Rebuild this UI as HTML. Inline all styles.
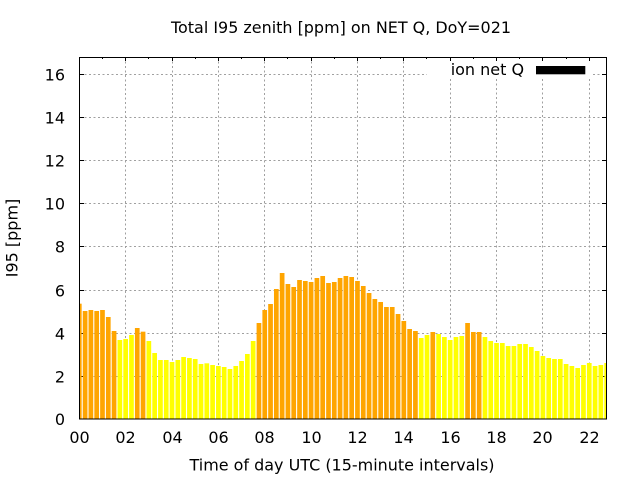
<!DOCTYPE html>
<html><head><meta charset="utf-8"><style>
html,body{margin:0;padding:0;background:#fff;}
svg{display:block;}
text{font-family:"DejaVu Sans","Liberation Sans",sans-serif;font-size:16px;fill:#000;}
</style></head><body>
<svg width="640" height="480" viewBox="0 0 640 480" xmlns="http://www.w3.org/2000/svg">
<rect x="0" y="0" width="640" height="480" fill="#fff"/>
<defs><clipPath id="pa"><rect x="80" y="57" width="526" height="362"/></clipPath></defs>
<g stroke="#a0a0a0" stroke-width="1" stroke-dasharray="2,2.5" fill="none">
<path d="M125.5 57V419M172.5 57V419M218.5 57V419M264.5 57V419M311.5 57V419M357.5 57V419M403.5 57V419M450.5 79V419M496.5 79V419M542.5 79V419M589.5 79V419"/>
<path d="M80 376.5H606M80 333.5H606M80 290.5H606M80 246.5H606M80 203.5H606M80 160.5H606M80 117.5H606M80 74.5H427M593 74.5H606"/>
</g>
<g stroke="#000" stroke-width="1">
<path d="M80 376.5H84M80 333.5H84M80 290.5H84M80 246.5H84M80 203.5H84M80 160.5H84M80 117.5H84M80 74.5H84"/>
<path d="M606 376.5H602M606 333.5H602M606 290.5H602M606 246.5H602M606 203.5H602M606 160.5H602M606 117.5H602M606 74.5H602"/>
<path d="M125.5 57V61M172.5 57V61M218.5 57V61M264.5 57V61M311.5 57V61M357.5 57V61M403.5 57V61M450.5 57V61M496.5 57V61M542.5 57V61M589.5 57V61"/>
<path d="M102.5 57V59M148.5 57V59M195.5 57V59M241.5 57V59M287.5 57V59M334.5 57V59M380.5 57V59M426.5 57V59M473.5 57V59M519.5 57V59M566.5 57V59"/>
</g>
<g clip-path="url(#pa)">
<g fill="#ffa500">
<rect x="76.95" y="303.67" width="4.7" height="115.33"/>
<rect x="82.75" y="311" width="4.7" height="108"/>
<rect x="88.54" y="310" width="4.7" height="109"/>
<rect x="94.34" y="311" width="4.7" height="108"/>
<rect x="100.13" y="310" width="4.7" height="109"/>
<rect x="105.93" y="317" width="4.7" height="102"/>
<rect x="111.72" y="331" width="4.7" height="88"/>
<rect x="134.90" y="328" width="4.7" height="91"/>
<rect x="140.70" y="331.67" width="4.7" height="87.33"/>
<rect x="256.60" y="323" width="4.7" height="96"/>
<rect x="262.39" y="310" width="4.7" height="109"/>
<rect x="268.19" y="304" width="4.7" height="115"/>
<rect x="273.98" y="289" width="4.7" height="130"/>
<rect x="279.78" y="273" width="4.7" height="146"/>
<rect x="285.57" y="284" width="4.7" height="135"/>
<rect x="291.37" y="287" width="4.7" height="132"/>
<rect x="297.16" y="280" width="4.7" height="139"/>
<rect x="302.96" y="281" width="4.7" height="138"/>
<rect x="308.75" y="282" width="4.7" height="137"/>
<rect x="314.55" y="278" width="4.7" height="141"/>
<rect x="320.34" y="276" width="4.7" height="143"/>
<rect x="326.14" y="283" width="4.7" height="136"/>
<rect x="331.93" y="282" width="4.7" height="137"/>
<rect x="337.73" y="278" width="4.7" height="141"/>
<rect x="343.52" y="276" width="4.7" height="143"/>
<rect x="349.32" y="277" width="4.7" height="142"/>
<rect x="355.11" y="281" width="4.7" height="138"/>
<rect x="360.91" y="286" width="4.7" height="133"/>
<rect x="366.70" y="293" width="4.7" height="126"/>
<rect x="372.50" y="299" width="4.7" height="120"/>
<rect x="378.29" y="302" width="4.7" height="117"/>
<rect x="384.09" y="307" width="4.7" height="112"/>
<rect x="389.88" y="307" width="4.7" height="112"/>
<rect x="395.68" y="314" width="4.7" height="105"/>
<rect x="401.47" y="321" width="4.7" height="98"/>
<rect x="407.27" y="329" width="4.7" height="90"/>
<rect x="413.06" y="331" width="4.7" height="88"/>
<rect x="430.45" y="332" width="4.7" height="87"/>
<rect x="465.22" y="323" width="4.7" height="96"/>
<rect x="471.01" y="332" width="4.7" height="87"/>
<rect x="476.81" y="332" width="4.7" height="87"/>
</g>
<g fill="#ffff00">
<rect x="117.52" y="340" width="4.7" height="79"/>
<rect x="123.31" y="339" width="4.7" height="80"/>
<rect x="129.11" y="335" width="4.7" height="84"/>
<rect x="146.49" y="341" width="4.7" height="78"/>
<rect x="152.29" y="353" width="4.7" height="66"/>
<rect x="158.08" y="360" width="4.7" height="59"/>
<rect x="163.88" y="360" width="4.7" height="59"/>
<rect x="169.67" y="362" width="4.7" height="57"/>
<rect x="175.47" y="360" width="4.7" height="59"/>
<rect x="181.26" y="357" width="4.7" height="62"/>
<rect x="187.06" y="358" width="4.7" height="61"/>
<rect x="192.85" y="359" width="4.7" height="60"/>
<rect x="198.65" y="364" width="4.7" height="55"/>
<rect x="204.44" y="363.33" width="4.7" height="55.67"/>
<rect x="210.24" y="365" width="4.7" height="54"/>
<rect x="216.03" y="366" width="4.7" height="53"/>
<rect x="221.83" y="367" width="4.7" height="52"/>
<rect x="227.62" y="369" width="4.7" height="50"/>
<rect x="233.42" y="366" width="4.7" height="53"/>
<rect x="239.21" y="361" width="4.7" height="58"/>
<rect x="245.01" y="354" width="4.7" height="65"/>
<rect x="250.80" y="341" width="4.7" height="78"/>
<rect x="418.86" y="338" width="4.7" height="81"/>
<rect x="424.65" y="335" width="4.7" height="84"/>
<rect x="436.24" y="334" width="4.7" height="85"/>
<rect x="442.04" y="337" width="4.7" height="82"/>
<rect x="447.83" y="340" width="4.7" height="79"/>
<rect x="453.63" y="337" width="4.7" height="82"/>
<rect x="459.42" y="336" width="4.7" height="83"/>
<rect x="482.60" y="337" width="4.7" height="82"/>
<rect x="488.40" y="341" width="4.7" height="78"/>
<rect x="494.19" y="343" width="4.7" height="76"/>
<rect x="499.99" y="343" width="4.7" height="76"/>
<rect x="505.78" y="346" width="4.7" height="73"/>
<rect x="511.58" y="346" width="4.7" height="73"/>
<rect x="517.37" y="344" width="4.7" height="75"/>
<rect x="523.17" y="344" width="4.7" height="75"/>
<rect x="528.96" y="347" width="4.7" height="72"/>
<rect x="534.76" y="351" width="4.7" height="68"/>
<rect x="540.55" y="356" width="4.7" height="63"/>
<rect x="546.35" y="358" width="4.7" height="61"/>
<rect x="552.14" y="359" width="4.7" height="60"/>
<rect x="557.94" y="359" width="4.7" height="60"/>
<rect x="563.73" y="364" width="4.7" height="55"/>
<rect x="569.53" y="366" width="4.7" height="53"/>
<rect x="575.32" y="368" width="4.7" height="51"/>
<rect x="581.12" y="365" width="4.7" height="54"/>
<rect x="586.91" y="363" width="4.7" height="56"/>
<rect x="592.71" y="366" width="4.7" height="53"/>
<rect x="598.50" y="365" width="4.7" height="54"/>
<rect x="604.30" y="363" width="4.7" height="56"/>
</g>
</g>
<rect x="79.5" y="57.5" width="527" height="361.5" fill="none" stroke="#000" stroke-width="1"/>
<g text-anchor="end">
<text x="65" y="424.8">0</text>
<text x="65" y="382.3">2</text>
<text x="65" y="339.3">4</text>
<text x="65" y="296.3">6</text>
<text x="65" y="252.3">8</text>
<text x="65" y="209.3">10</text>
<text x="65" y="166.3">12</text>
<text x="65" y="123.3">14</text>
<text x="65" y="80.3">16</text>
</g>
<g text-anchor="middle">
<text x="79.5" y="443">00</text>
<text x="125.5" y="443">02</text>
<text x="172.5" y="443">04</text>
<text x="218.5" y="443">06</text>
<text x="264.5" y="443">08</text>
<text x="311.5" y="443">10</text>
<text x="357.5" y="443">12</text>
<text x="403.5" y="443">14</text>
<text x="450.5" y="443">16</text>
<text x="496.5" y="443">18</text>
<text x="542.5" y="443">20</text>
<text x="589.5" y="443">22</text>
</g>
<text x="341" y="33" text-anchor="middle" textLength="340" lengthAdjust="spacingAndGlyphs">Total I95 zenith [ppm] on NET Q, DoY=021</text>
<text x="342" y="470.5" text-anchor="middle" textLength="305" lengthAdjust="spacingAndGlyphs">Time of day UTC (15-minute intervals)</text>
<text transform="translate(17.5,238) rotate(-90)" text-anchor="middle">I95 [ppm]</text>
<text x="450.7" y="75">ion net Q</text>
<rect x="536" y="66" width="49.3" height="8.3" fill="#000"/>
</svg>
</body></html>
